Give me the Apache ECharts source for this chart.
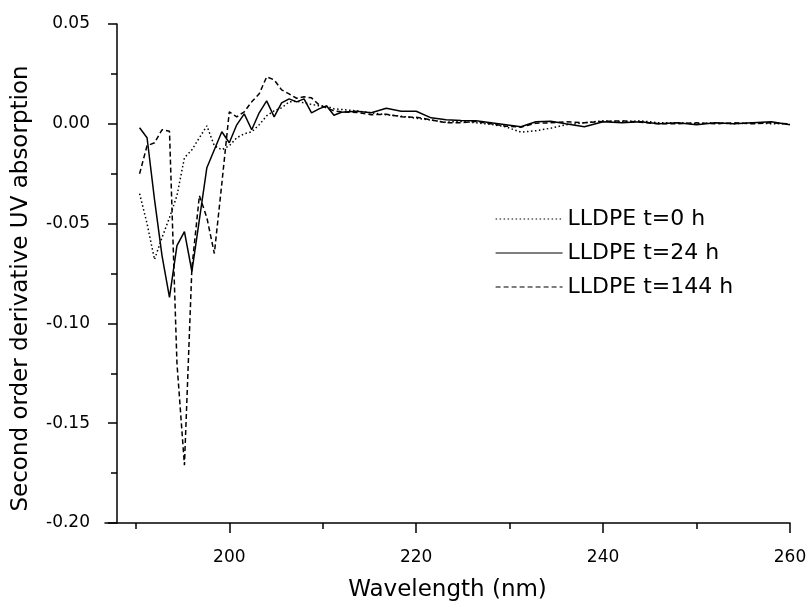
<!DOCTYPE html>
<html>
<head>
<meta charset="utf-8">
<script src="https://cdn.jsdelivr.net/npm/echarts@6/dist/echarts.min.js"></script>
<style>
  html, body { margin: 0; padding: 0; background: #fff; }
  #chart { width: 809px; height: 604px; }
</style>
</head>
<body>
<div id="chart"></div>
<script>
var wavelength = [
  190.4, 191.2, 192.0, 192.8, 193.6, 194.4, 195.2, 196.0, 196.8, 197.6, 198.4, 199.2, 200.0, 200.8,
  201.6, 202.4, 203.2, 204.0, 204.8, 205.6, 206.4, 207.2, 208.0, 208.8, 209.6, 210.4, 211.2, 212.0,
  213.6, 215.2, 216.8, 218.4, 220.0, 221.6, 223.2, 224.8, 226.4, 228.0, 229.6, 231.2, 232.8, 234.4,
  236, 238, 240, 242, 244, 246, 248, 250, 252, 254, 256, 258, 260
];

var lldpe0h = [
  -0.035, -0.050, -0.068, -0.057, -0.047, -0.036, -0.017, -0.013, -0.007, -0.001, -0.011, -0.013, -0.011, -0.007,
  -0.005, -0.004, -0.0005, 0.004, 0.0065, 0.008, 0.011, 0.0113, 0.0105, 0.0097, 0.009, 0.0088, 0.0075, 0.0072,
  0.0065, 0.0055, 0.0045, 0.0038, 0.0028, 0.0018, 0.0008, 0.0012, 0.0005, -0.0003, -0.0015, -0.0042, -0.0035, -0.0022,
  -0.0005, 0.0005, 0.0015, 0.001, 0.0015, 0.0005, 0.0005, 0.0, 0.0005, 0.0, 0.0005, 0.0, 0.0
];

var lldpe24h = [
  -0.002, -0.007, -0.038, -0.066, -0.087, -0.061, -0.054, -0.074, -0.048, -0.022, -0.013, -0.004, -0.0095, -0.0005,
  0.005, -0.003, 0.0055, 0.0115, 0.0035, 0.0105, 0.0125, 0.011, 0.0125, 0.0055, 0.0075, 0.009, 0.0043, 0.0058,
  0.0063, 0.0055, 0.0078, 0.0063, 0.0063, 0.003, 0.002, 0.0017, 0.0015, 0.0005, -0.0005, -0.0015, 0.001, 0.0013,
  0.0, -0.0015, 0.001, 0.0005, 0.001, 0.0, 0.0005, -0.0005, 0.0005, 0.0, 0.0005, 0.001, -0.0005
];

var lldpe144h = [
  -0.025, -0.011, -0.0095, -0.003, -0.0037, -0.12, -0.171, -0.072, -0.036, -0.047, -0.065, -0.03, 0.006, 0.0035,
  0.006, 0.011, 0.015, 0.0235, 0.022, 0.017, 0.015, 0.0128, 0.0135, 0.013, 0.0095, 0.008, 0.0065, 0.006,
  0.0057, 0.0045, 0.0048, 0.0035, 0.0033, 0.002, 0.0005, 0.0005, 0.0012, 0.0, -0.0012, -0.0017, 0.0003, 0.0005,
  0.001, 0.0005, 0.0012, 0.0015, 0.0008, 0.0, 0.0, 0.0005, 0.0, 0.0005, 0.0, 0.0005, 0.0
];

var seriesNames = ['LLDPE t=0 h', 'LLDPE t=24 h', 'LLDPE t=144 h'];
var xMajorTicks = [200, 220, 240, 260];
var xMinorTicks = [190, 210, 230, 250];

var font = 'DejaVu Sans';

function pairs(ys) {
  return wavelength.map(function (x, i) { return [x, ys[i]]; });
}

function lineSeries(name, ys, dash) {
  return {
    name: name,
    type: 'line',
    xAxisIndex: 0,
    data: pairs(ys),
    symbol: 'none',
    smooth: false,
    lineStyle: { color: '#000', width: 1.5, type: dash },
    itemStyle: { color: '#000' },
    emphasis: { disabled: true }
  };
}

var chart = echarts.init(document.getElementById('chart'));
var option = {
  animation: false,
  backgroundColor: '#fff',
  // fixed plot box, no auto shrink for the axis names
  grid: { left: 105, right: 19, top: 24, bottom: 81, outerBoundsMode: 'none' },
  legend: {
    orient: 'vertical',
    left: 490,
    top: 203,
    itemWidth: 67,
    itemHeight: 14,
    itemGap: 12,
    selectedMode: false,
    data: seriesNames,
    itemStyle: { color: 'transparent', borderWidth: 0, opacity: 0 },
    lineStyle: { width: 1.2 },
    textStyle: { fontFamily: font, fontSize: 22, color: '#000' }
  },
  xAxis: [
    {
      type: 'value',
      min: 186.7,
      max: 260,
      name: 'Wavelength (nm)',
      nameLocation: 'middle',
      nameGap: 56,
      nameTextStyle: { fontFamily: font, fontSize: 23, color: '#000' },
      axisLine: { show: true, onZero: false, lineStyle: { color: '#000', width: 1.5 } },
      axisTick: { show: true, length: 10, customValues: xMajorTicks, lineStyle: { color: '#000', width: 1.5 } },
      axisLabel: { customValues: xMajorTicks, margin: 26, fontFamily: font, fontSize: 17, color: '#000' },
      splitLine: { show: false }
    },
    {
      type: 'value',
      position: 'bottom',
      min: 186.7,
      max: 260,
      axisLine: { show: false, onZero: false },
      axisTick: { show: true, length: 6, customValues: xMinorTicks, lineStyle: { color: '#000', width: 1.5 } },
      axisLabel: { show: false },
      splitLine: { show: false }
    }
  ],
  yAxis: {
    type: 'value',
    min: -0.2,
    max: 0.05,
    interval: 0.05,
    offset: -12,
    name: 'Second order derivative UV absorption',
    nameLocation: 'middle',
    nameGap: 84,
    nameTextStyle: { fontFamily: font, fontSize: 23, color: '#000', padding: [0, 30, 0, 0] },
    axisLine: { show: true, onZero: false, lineStyle: { color: '#000', width: 1.5 } },
    axisTick: { show: true, length: 9, lineStyle: { color: '#000', width: 1.5 } },
    minorTick: { show: true, splitNumber: 2, length: 6, lineStyle: { color: '#000', width: 1.5 } },
    axisLabel: {
      margin: 27,
      fontFamily: font,
      fontSize: 17,
      color: '#000',
      formatter: function (v) { return v.toFixed(2); }
    },
    splitLine: { show: false }
  },
  series: [
    lineSeries(seriesNames[0], lldpe0h, [1.5, 2.5]),
    lineSeries(seriesNames[1], lldpe24h, 'solid'),
    lineSeries(seriesNames[2], lldpe144h, [5, 3])
  ]
};
chart.setOption(option);
</script>
</body>
</html>
